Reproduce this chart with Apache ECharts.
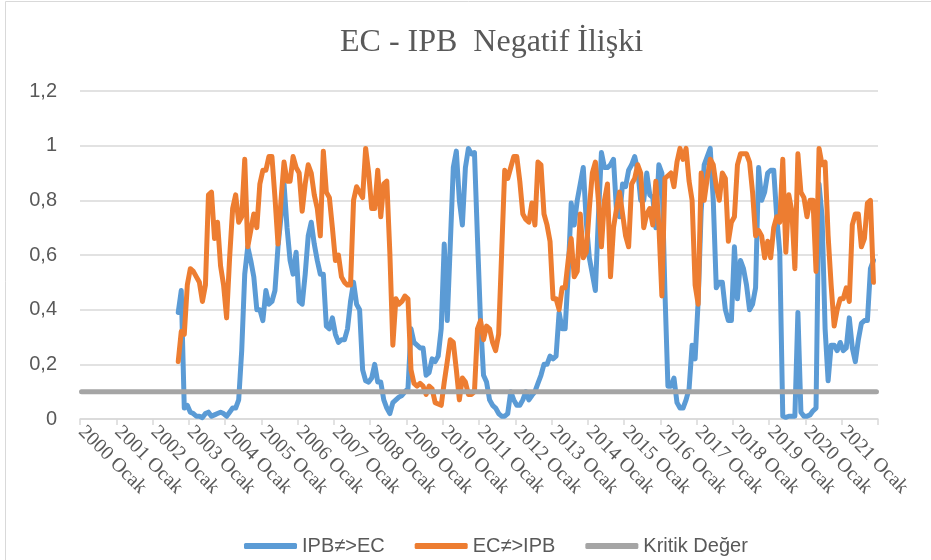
<!DOCTYPE html>
<html>
<head>
<meta charset="utf-8">
<script src="https://cdn.jsdelivr.net/npm/echarts@6/dist/echarts.min.js"></script>
<style>
  html, body { margin: 0; padding: 0; background: #fff; }
  #chart { width: 931px; height: 560px; }
</style>
</head>
<body>
<div id="chart"></div>
<script>
// yıllar ve aylar (kategori ekseni)
var years = [2000, 2001, 2002, 2003, 2004, 2005, 2006, 2007, 2008, 2009, 2010,
             2011, 2012, 2013, 2014, 2015, 2016, 2017, 2018, 2019, 2020, 2021];
var months = ['Ocak', 'Şubat', 'Mart', 'Nisan', 'Mayıs', 'Haziran',
              'Temmuz', 'Ağustos', 'Eylül', 'Ekim', 'Kasım', 'Aralık'];

// seriler 2002 Eylül'den başlıyor
var firstMonth = '2002 Eylül';

// IPB≠>EC
var ipbEc = [
    0.39, 0.47, 0.04, 0.05, 0.025, 0.02, 0.01, 0.01, 0.005, 0.02,
    0.025, 0.01, 0.015, 0.02, 0.025, 0.02, 0.01, 0.025, 0.04, 0.04,
    0.07, 0.25, 0.53, 0.63, 0.58, 0.52, 0.40, 0.40, 0.36, 0.47,
    0.42, 0.43, 0.47, 0.63, 0.74, 0.86, 0.70, 0.58, 0.53, 0.61,
    0.43, 0.42, 0.53, 0.67, 0.72, 0.64, 0.58, 0.53, 0.53, 0.34,
    0.33, 0.37, 0.31, 0.28, 0.29, 0.29, 0.33, 0.43, 0.50, 0.42,
    0.40, 0.18, 0.14, 0.135, 0.15, 0.20, 0.135, 0.135, 0.07, 0.04,
    0.02, 0.06, 0.07, 0.08, 0.086, 0.10, 0.11, 0.33, 0.28, 0.27,
    0.26, 0.26, 0.16, 0.17, 0.22, 0.21, 0.23, 0.33, 0.64, 0.36,
    0.64, 0.92, 0.98, 0.80, 0.71, 0.92, 0.99, 0.97, 0.975, 0.66,
    0.36, 0.16, 0.135, 0.07, 0.05, 0.04, 0.02, 0.01, 0.01, 0.02,
    0.10, 0.07, 0.05, 0.05, 0.07, 0.10, 0.07, 0.086, 0.10, 0.13,
    0.16, 0.20, 0.20, 0.23, 0.22, 0.23, 0.39, 0.33, 0.33, 0.53,
    0.79, 0.71, 0.80, 0.86, 0.92, 0.72, 0.59, 0.53, 0.47, 0.74,
    0.975, 0.92, 0.92, 0.93, 0.95, 0.76, 0.74, 0.86, 0.85, 0.91,
    0.93, 0.96, 0.91, 0.80, 0.80, 0.90, 0.82, 0.81, 0.70, 0.93,
    0.90, 0.47, 0.12, 0.12, 0.15, 0.06, 0.04, 0.04, 0.07, 0.11,
    0.27, 0.22, 0.43, 0.76, 0.93, 0.96, 0.99, 0.80, 0.48, 0.50,
    0.50, 0.40, 0.36, 0.36, 0.63, 0.44, 0.58, 0.55, 0.49, 0.40,
    0.42, 0.48, 0.92, 0.80, 0.83, 0.90, 0.91, 0.91, 0.74, 0.61,
    0.01, 0.006, 0.01, 0.01, 0.01, 0.39, 0.025, 0.01, 0.01, 0.015,
    0.03, 0.04, 0.86, 0.74, 0.33, 0.14, 0.27, 0.27, 0.25, 0.28,
    0.25, 0.26, 0.37, 0.26, 0.21, 0.29, 0.35, 0.36, 0.36, 0.55,
    0.58
];

// EC≠>IPB
var ecIpb = [
    0.21, 0.32, 0.31, 0.49, 0.55, 0.54, 0.52, 0.50, 0.43, 0.49,
    0.82, 0.83, 0.66, 0.72, 0.56, 0.49, 0.37, 0.59, 0.77, 0.82,
    0.72, 0.74, 0.95, 0.63, 0.69, 0.75, 0.70, 0.86, 0.91, 0.91,
    0.96, 0.96, 0.81, 0.64, 0.80, 0.94, 0.87, 0.87, 0.96, 0.92,
    0.90, 0.76, 0.86, 0.93, 0.90, 0.82, 0.77, 0.67, 0.98, 0.83,
    0.81, 0.70, 0.58, 0.60, 0.52, 0.50, 0.49, 0.49, 0.80, 0.85,
    0.83, 0.81, 0.99, 0.90, 0.77, 0.77, 0.91, 0.74, 0.86, 0.87,
    0.61, 0.27, 0.44, 0.42, 0.43, 0.45, 0.44, 0.18, 0.13, 0.12,
    0.13, 0.12, 0.09, 0.12, 0.11, 0.06, 0.055, 0.05, 0.135, 0.21,
    0.29, 0.28, 0.18, 0.07, 0.15, 0.135, 0.09, 0.09, 0.10, 0.33,
    0.36, 0.29, 0.34, 0.33, 0.28, 0.25, 0.31, 0.61, 0.91, 0.88,
    0.92, 0.96, 0.96, 0.87, 0.75, 0.73, 0.72, 0.79, 0.71, 0.94,
    0.93, 0.75, 0.71, 0.65, 0.44, 0.44, 0.40, 0.48, 0.48, 0.58,
    0.66, 0.52, 0.54, 0.75, 0.59, 0.61, 0.77, 0.90, 0.94, 0.80,
    0.63, 0.80, 0.86, 0.52, 0.70, 0.77, 0.83, 0.75, 0.67, 0.63,
    0.86, 0.88, 0.93, 0.90, 0.70, 0.75, 0.77, 0.71, 0.87, 0.71,
    0.45, 0.88, 0.89, 0.90, 0.85, 0.94, 0.99, 0.95, 0.99, 0.87,
    0.80, 0.49, 0.42, 0.90, 0.80, 0.88, 0.95, 0.93, 0.85, 0.80,
    0.90, 0.88, 0.65, 0.72, 0.74, 0.93, 0.97, 0.97, 0.97, 0.94,
    0.83, 0.67, 0.69, 0.67, 0.59, 0.65, 0.59, 0.70, 0.74, 0.72,
    0.95, 0.61, 0.82, 0.76, 0.55, 0.97, 0.83, 0.81, 0.74, 0.80,
    0.80, 0.54, 0.99, 0.93, 0.94, 0.67, 0.49, 0.34, 0.40, 0.44,
    0.44, 0.48, 0.43, 0.71, 0.75, 0.75, 0.63, 0.66, 0.79, 0.80,
    0.50
];

// Kritik Değer
var kritikDeger = 0.1;

var seriesNames = ['IPB≠>EC', 'EC≠>IPB', 'Kritik Değer'];
var colors = ['#5b9bd5', '#ed7d31', '#a5a5a5'];

// kategori listesi: "2000 Ocak" ... "2021 Aralık"
var categories = [];
years.forEach(function(y) {
    months.forEach(function(m) {
        categories.push(y + ' ' + m);
    });
});

// seriyi başlangıç ayına göre hizala
function align(values) {
    var start = categories.indexOf(firstMonth);
    var out = [];
    for (var i = 0; i < start; i++) out.push(null);
    return out.concat(values);
}

var kritikData = categories.map(function() { return kritikDeger; });

var chart = echarts.init(document.getElementById('chart'));

function lineSeries(name, data, color) {
    return {
        name: name,
        type: 'line',
        data: data,
        symbol: 'none',
        smooth: false,
        connectNulls: false,
        color: color,
        lineStyle: { color: color, width: 5, cap: 'round', join: 'round' },
        emphasis: { disabled: true },
        animation: false
    };
}

var option = {
    backgroundColor: '#ffffff',
    animation: false,
    title: {
        text: 'EC - IPB  Negatif İlişki',
        left: 335,
        top: 22,
        textStyle: {
            fontFamily: 'Liberation Serif',
            fontSize: 32,
            fontWeight: 'normal',
            color: '#595959'
        }
    },
    legend: {
        data: seriesNames,
        left: 239,
        top: 531,
        icon: 'roundRect',
        itemWidth: 53,
        itemHeight: 6,
        itemGap: 30,
        textStyle: {
            fontFamily: 'Liberation Sans',
            fontSize: 20,
            color: '#595959'
        }
    },
    grid: {
        left: 80,
        right: 53,
        top: 91,
        bottom: 141,
        containLabel: false
    },
    xAxis: {
        type: 'category',
        data: categories,
        boundaryGap: true,
        axisLine: { lineStyle: { color: '#d9d9d9', width: 1.5 } },
        axisTick: {
            show: true,
            interval: 11,
            length: 6,
            lineStyle: { color: '#d9d9d9', width: 1.5 }
        },
        axisLabel: {
            interval: 11,
            rotate: -45,
            margin: 10,
            fontFamily: 'Liberation Serif',
            fontSize: 20,
            color: '#595959',
            formatter: function(v) {
                return v.split(' ')[0] + ' Ocak';
            }
        },
        splitLine: { show: false }
    },
    yAxis: {
        type: 'value',
        min: 0,
        max: 1.2,
        interval: 0.2,
        axisLine: { show: false },
        axisTick: { show: false },
        axisLabel: {
            margin: 23,
            fontFamily: 'Liberation Sans',
            fontSize: 20,
            color: '#595959',
            formatter: function(v) {
                return String(+v.toFixed(1)).replace('.', ',');
            }
        },
        splitLine: { lineStyle: { color: '#d9d9d9', width: 1.5 } }
    },
    graphic: [{
        type: 'rect',
        shape: { x: 5.5, y: 1.5, width: 1000, height: 1000 },
        style: { fill: null, stroke: '#d9d9d9', lineWidth: 1 },
        silent: true
    }],
    series: [
        lineSeries(seriesNames[0], align(ipbEc), colors[0]),
        lineSeries(seriesNames[1], align(ecIpb), colors[1]),
        lineSeries(seriesNames[2], kritikData, colors[2])
    ]
};

chart.setOption(option);
</script>
</body>
</html>
